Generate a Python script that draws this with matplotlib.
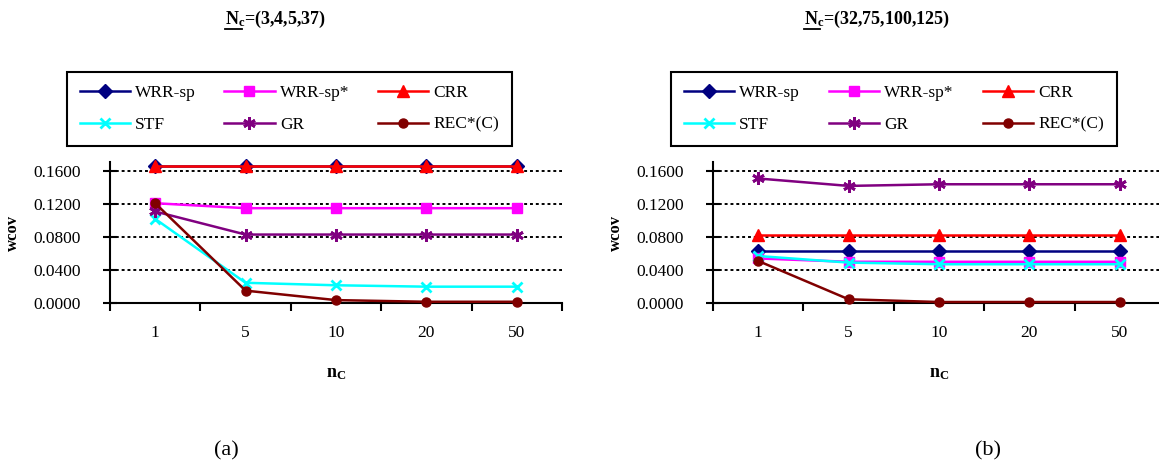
import numpy as np
import matplotlib.pyplot as plt
from matplotlib.lines import Line2D

plt.rcParams['font.family'] = ['Liberation Serif', 'DejaVu Serif']
plt.rcParams['mathtext.fontset'] = 'custom'
plt.rcParams['mathtext.rm'] = 'Liberation Serif'
plt.rcParams['mathtext.bf'] = 'Liberation Serif:bold'
plt.rcParams['mathtext.it'] = 'Liberation Serif:italic'

# datos
n_c = ['1', '5', '10', '20', '50']
series = ['WRR-sp', 'WRR-sp*', 'CRR', 'STF', 'GR', 'REC*(C)']

# (a) N_c = (3,4,5,37)
wrr_sp_a = [0.166, 0.166, 0.166, 0.166, 0.166]
wrr_sp_star_a = [0.121, 0.115, 0.115, 0.115, 0.115]
crr_a = [0.166, 0.166, 0.166, 0.166, 0.166]
stf_a = [0.102, 0.0245, 0.0215, 0.0198, 0.0198]
gr_a = [0.111, 0.083, 0.083, 0.083, 0.083]
rec_a = [0.121, 0.015, 0.0035, 0.0015, 0.0015]

# (b) N_c = (32,75,100,125)
wrr_sp_b = [0.063, 0.063, 0.063, 0.063, 0.063]
wrr_sp_star_b = [0.054, 0.050, 0.050, 0.050, 0.050]
crr_b = [0.083, 0.083, 0.083, 0.083, 0.083]
stf_b = [0.057, 0.049, 0.047, 0.047, 0.047]
gr_b = [0.151, 0.142, 0.144, 0.144, 0.144]
rec_b = [0.051, 0.0045, 0.0012, 0.0012, 0.0012]

panels = [
    ('3,4,5,37', [wrr_sp_a, wrr_sp_star_a, crr_a, stf_a, gr_a, rec_a]),
    ('32,75,100,125', [wrr_sp_b, wrr_sp_star_b, crr_b, stf_b, gr_b, rec_b]),
]

# estilos (color, marcador, tamano, mew)
styles = [
    ('#000080', 'D', 7.0, 1.0),
    ('#FF00FF', 's', 6.5, 1.0),
    ('#FF0000', '^', 8.5, 1.0),
    ('#00FFFF', 'x', 7.5, 2.0),
    ('#800080', (6, 2, 0), 9.0, 2.0),
    ('#800000', 'o', 6.5, 1.0),
]

W, H = 1159, 463
fig = plt.figure(figsize=(W / 100, H / 100), dpi=100)

# posiciones en pixeles
ax_left = [110, 713]
ax_w = 452
ax_bottom, ax_top = 303, 162
title_x = [276, 877]
legend_x = [(66.6, 445.4), (670.6, 446.4)]
label_x = [226, 988]

titles = []
for i, (nc_text, data) in enumerate(panels):
    ax = fig.add_axes([ax_left[i] / W, 1 - ax_bottom / H, ax_w / W, (ax_bottom - ax_top) / H])
    x = np.arange(len(n_c)) + 0.5
    handles = []
    for vals, (color, marker, ms, mew) in zip(data, styles):
        ln, = ax.plot(x, vals, color=color, marker=marker, markersize=ms,
                      markeredgewidth=mew, linewidth=1.8, clip_on=False, zorder=3)
        handles.append(ln)

    ax.set_xlim(0, len(n_c))
    ax.set_ylim(0, 0.171)
    ax.set_xticks(range(len(n_c) + 1))
    ax.set_xticks(x, minor=True)
    ax.set_xticklabels(n_c, minor=True)
    ax.tick_params(axis='x', which='major', direction='out', length=6, width=1.5, labelbottom=False)
    ax.tick_params(axis='x', which='minor', length=0, pad=16, labelsize=12.5)
    ax.set_yticks([0, 0.04, 0.08, 0.12, 0.16])
    ax.set_yticklabels([f'{v:.4f}' for v in [0, 0.04, 0.08, 0.12, 0.16]])
    ax.tick_params(axis='y', direction='inout', length=10, width=1.5, pad=16, labelsize=12.5)
    ax.yaxis.grid(True, color='black', linestyle=(0, (1.5, 1.5)), linewidth=1.4)
    ax.set_axisbelow(True)
    for s in ['top', 'right']:
        ax.spines[s].set_visible(False)
    for s in ['left', 'bottom']:
        ax.spines[s].set_linewidth(1.5)

    fig.text((ax_left[i] - 97) / W, 1 - 233 / H, 'wcov', rotation=90, ha='center', va='center',
             fontsize=12, fontweight='bold')
    fig.text((ax_left[i] + 226) / W, 1 - 374 / H, r'$\mathbf{n}_{\mathbf{C}}$', ha='center', va='center',
             fontsize=13)
    fig.text(label_x[i] / W, 1 - 451 / H, '(a)' if i == 0 else '(b)', ha='center', va='center', fontsize=16)

    t = fig.text(title_x[i] / W, 1 - 19 / H, r'$\mathbf{N}_{\mathbf{c}}$' + f'=({nc_text})',
                 ha='center', va='center', fontsize=13, fontweight='bold')
    titles.append(t)

    order = [0, 3, 1, 4, 2, 5]
    lx, lw = legend_x[i]
    leg = fig.legend([handles[k] for k in order], [series[k] for k in order], ncol=3,
                     loc='center', bbox_to_anchor=(lx / W, 1 - 145.7 / H, lw / W, 74 / H),
                     mode='expand', fontsize=12.5, frameon=True, fancybox=False,
                     edgecolor='black', framealpha=1, borderpad=0.75, labelspacing=0.9,
                     handlelength=2.9, handletextpad=0.3, borderaxespad=0)
    leg.get_frame().set_linewidth(1.5)

# subrayado de N_c en los titulos
fig.canvas.draw()
r = fig.canvas.get_renderer()
for t in titles:
    bb = t.get_window_extent(r)
    tmp = fig.text(0, 0, r'$\mathbf{N}_{\mathbf{c}}$', fontsize=13)
    w_nc = tmp.get_window_extent(r).width
    tmp.remove()
    y_u = bb.y0 + 1
    fig.add_artist(Line2D([bb.x0 / W, (bb.x0 + w_nc * 0.8) / W], [y_u / H, y_u / H],
                          color='black', linewidth=1.3))

fig.savefig('out.png', dpi=100)
